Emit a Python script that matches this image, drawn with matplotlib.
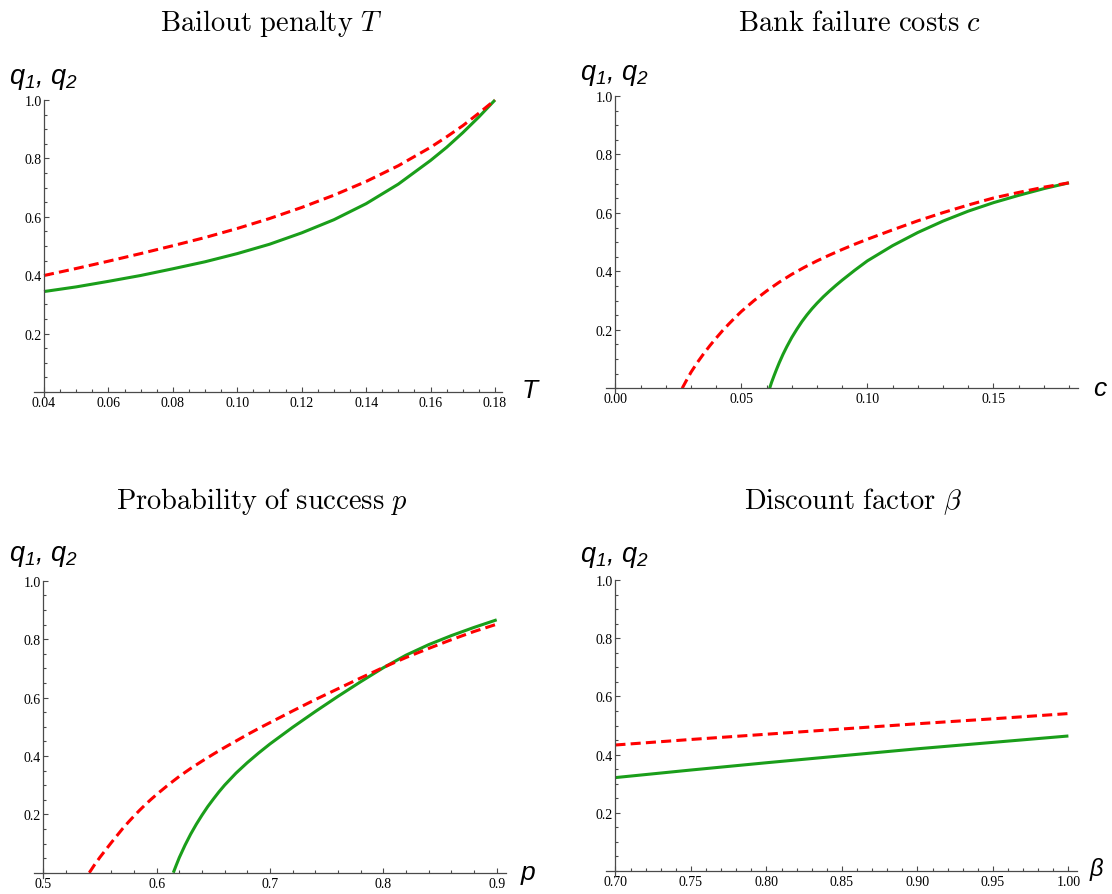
import numpy as np
import matplotlib.pyplot as plt

W, H = 1112, 895

# --- Bailout penalty T ---
T_vals = [0.04, 0.05, 0.06, 0.07, 0.08, 0.09, 0.10, 0.11, 0.12, 0.13, 0.14, 0.15, 0.16,
          0.165, 0.17, 0.175, 0.18]
T_q1 = [0.399, 0.423, 0.448, 0.474, 0.501, 0.529, 0.560, 0.594, 0.632, 0.674, 0.721, 0.775, 0.838,
        0.874, 0.912, 0.955, 1.000]
T_q2 = [0.344, 0.360, 0.379, 0.399, 0.422, 0.446, 0.474, 0.506, 0.545, 0.590, 0.645, 0.712, 0.793,
        0.838, 0.888, 0.942, 1.000]

# --- Bank failure costs c ---
c_x1 = [0.0265, 0.028, 0.030, 0.0325, 0.035, 0.0375, 0.040, 0.0425, 0.045, 0.0475, 0.050,
        0.055, 0.060, 0.065, 0.070, 0.075, 0.080, 0.085, 0.090, 0.095,
        0.100, 0.110, 0.120, 0.130, 0.140, 0.150, 0.160, 0.170, 0.180]
c_q1 = [0.000, 0.024, 0.055, 0.088, 0.118, 0.146, 0.172, 0.197, 0.220, 0.242, 0.263,
        0.300, 0.333, 0.363, 0.390, 0.414, 0.436, 0.456, 0.475, 0.493,
        0.510, 0.542, 0.573, 0.601, 0.627, 0.651, 0.670, 0.688, 0.703]
c_x2 = [0.0612, 0.062, 0.063, 0.064, 0.065, 0.0665, 0.068, 0.070, 0.072, 0.074, 0.076, 0.078,
        0.080, 0.0825, 0.085, 0.0875, 0.090, 0.095,
        0.100, 0.110, 0.120, 0.130, 0.140, 0.150, 0.160, 0.170, 0.180]
c_q2 = [0.000, 0.021, 0.044, 0.066, 0.087, 0.116, 0.142, 0.174, 0.202, 0.228, 0.251, 0.272,
        0.291, 0.313, 0.333, 0.352, 0.370, 0.404,
        0.436, 0.488, 0.533, 0.572, 0.606, 0.635, 0.660, 0.683, 0.703]

# --- Probability of success p ---
p_x1 = [0.5406, 0.545, 0.550, 0.555, 0.560, 0.565, 0.570, 0.575, 0.580, 0.585, 0.590, 0.595,
        0.600, 0.610, 0.620, 0.630, 0.640, 0.650, 0.660, 0.670, 0.680, 0.690,
        0.700, 0.720, 0.740, 0.760, 0.780, 0.800, 0.820, 0.840, 0.860, 0.880, 0.900]
p_q1 = [0.000, 0.026, 0.053, 0.078, 0.103, 0.127, 0.151, 0.173, 0.194, 0.214, 0.233, 0.251,
        0.268, 0.300, 0.330, 0.357, 0.382, 0.406, 0.429, 0.451, 0.473, 0.494,
        0.514, 0.554, 0.593, 0.630, 0.667, 0.703, 0.737, 0.768, 0.798, 0.826, 0.851]
p_x2 = [0.6147, 0.617, 0.620, 0.625, 0.630, 0.635, 0.640, 0.645, 0.650, 0.655, 0.660,
        0.670, 0.680, 0.690, 0.700, 0.720, 0.740, 0.760, 0.780, 0.800,
        0.820, 0.840, 0.860, 0.880, 0.900]
p_q2 = [0.000, 0.023, 0.052, 0.094, 0.132, 0.166, 0.197, 0.226, 0.252, 0.277, 0.300,
        0.341, 0.377, 0.410, 0.441, 0.498, 0.552, 0.604, 0.654, 0.702,
        0.745, 0.781, 0.812, 0.840, 0.866]

# --- Discount factor beta ---
beta_vals = [0.70, 0.75, 0.80, 0.85, 0.90, 0.95, 1.00]
beta_q1 = [0.433, 0.452, 0.470, 0.488, 0.506, 0.523, 0.541]
beta_q2 = [0.321, 0.347, 0.372, 0.396, 0.420, 0.442, 0.464]

plt.rcParams['font.family'] = 'Liberation Serif'
plt.rcParams['mathtext.it'] = 'Liberation Sans:italic'
plt.rcParams['mathtext.rm'] = 'Liberation Sans:italic'

RED = '#ff0000'
GREEN = '#1a9e1a'
AXC = '#4a4a4a'

fig = plt.figure(figsize=(W / 100, H / 100), dpi=100)


def ftext(x, y, s, **kw):
    fig.text(x / W, 1 - y / H, s, **kw)


def panel(rect, xa, ya, xmajor, xstep, xfmt):
    # rect in pixels: left, right, top, bottom
    l, r, t, b = rect
    ax = fig.add_axes([l / W, 1 - b / H, (r - l) / W, (b - t) / H])
    (xv0, xp0), (xv1, xp1) = xa
    sx = (xp1 - xp0) / (xv1 - xv0)
    ax.set_xlim(xv0 - (xp0 - l) / sx, xv1 + (r - xp1) / sx)
    y0p, y1p = ya
    sy = y0p - y1p
    ax.set_ylim(-(b - y0p) / sy, 1 + (y1p - t) / sy)

    ax.set_xticks(xmajor)
    ax.set_xticklabels([xfmt % v for v in xmajor])
    ax.set_xticks(np.arange(xmajor[0], xv1 + 1e-9, xstep), minor=True)
    yt = [0.2, 0.4, 0.6, 0.8, 1.0]
    ax.set_yticks(yt)
    ax.set_yticklabels(['%.1f' % v for v in yt])
    ax.set_yticks(np.arange(0, 1.0001, 0.05), minor=True)

    for s in ['top', 'right']:
        ax.spines[s].set_visible(False)
    ax.spines['left'].set_position(('data', xv0))
    ax.spines['bottom'].set_position(('data', 0))
    for s in ['left', 'bottom']:
        ax.spines[s].set_color(AXC)
        ax.spines[s].set_linewidth(0.9)
    ax.tick_params(which='both', direction='in', color=AXC, width=0.8, labelsize=10)
    ax.tick_params(which='major', length=3.8)
    ax.tick_params(which='minor', length=2.0)
    ax.tick_params(axis='x', pad=3.0)
    ax.tick_params(axis='y', pad=1.8)
    ax.patch.set_alpha(0)
    return ax


def curves(ax, x2, y2, x1, y1):
    ax.plot(x2, y2, color=GREEN, lw=2.2, solid_capstyle='butt', clip_on=False)
    ax.plot(x1, y1, color=RED, lw=2.2, dashes=(3.3, 1.7), dash_capstyle='butt', clip_on=False)


ax1 = panel((34, 502, 101, 398), ((0.04, 44), (0.18, 495)), (393, 101),
            [0.04, 0.06, 0.08, 0.10, 0.12, 0.14, 0.16, 0.18], 0.005, '%.2f')
curves(ax1, T_vals, T_q2, T_vals, T_q1)

ax2 = panel((606, 1078, 97, 394), ((0.0, 615.4), (0.18, 1069)), (389.3, 97),
            [0.0, 0.05, 0.10, 0.15], 0.01, '%.2f')
curves(ax2, c_x2, c_q2, c_x1, c_q1)

ax3 = panel((33.6, 506, 581.7, 879), ((0.5, 43.3), (0.9, 496.7)), (873.7, 581.7),
            [0.5, 0.6, 0.7, 0.8, 0.9], 0.02, '%.1f')
curves(ax3, p_x2, p_q2, p_x1, p_q1)

ax4 = panel((606, 1077, 581, 877), ((0.70, 615.4), (1.00, 1068.4)), (872, 581),
            [0.70, 0.75, 0.80, 0.85, 0.90, 0.95, 1.00], 0.01, '%.2f')
curves(ax4, beta_vals, beta_q2, beta_vals, beta_q1)

# titles (Computer Modern look)
tkw = dict(fontsize=20.5, ha='center', va='baseline', math_fontfamily='cm')
ftext(271, 31, r'$\mathrm{Bailout\ penalty}\ T$', **tkw)
ftext(860, 31, r'$\mathrm{Bank\ failure\ costs}\ c$', **tkw)
ftext(262, 509, r'$\mathrm{Probability\ of\ success}\ p$', **tkw)
ftext(853, 509, r'$\mathrm{Discount\ factor}\ \beta$', **tkw)

# y labels
qkw = dict(fontsize=19.5, ha='left', va='baseline', family='Liberation Sans',
           style='italic', math_fontfamily='custom')
qlab = r'$q_1$, $q_2$'
ftext(8.6, 83.5, qlab, **qkw)
ftext(579.5, 80, qlab, **qkw)
ftext(8.6, 561, qlab, **qkw)
ftext(579.5, 562, qlab, **qkw)

# x labels
xkw = dict(fontsize=19, ha='left', va='baseline', family='Liberation Sans', style='italic')
ftext(521.7, 398, 'T', **xkw)
ftext(1093, 396, 'c', **xkw)
ftext(521, 880, 'p', **xkw)
ftext(1090, 876, 'β', **dict(xkw, fontsize=17))

fig.savefig('out.png', dpi=100)
